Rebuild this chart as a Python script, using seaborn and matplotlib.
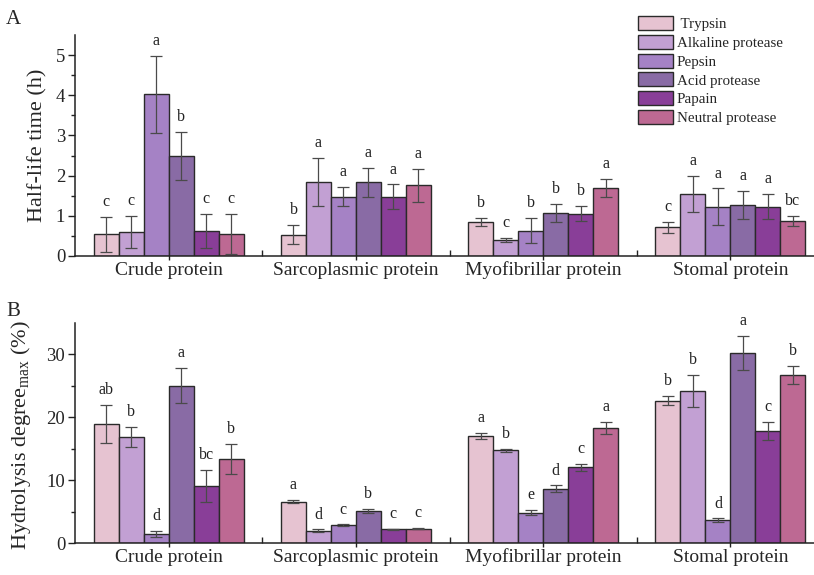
import numpy as np
import pandas as pd
import matplotlib
matplotlib.use("Agg")
import matplotlib.pyplot as plt
import seaborn as sns

proteins = ["Crude protein", "Sarcoplasmic protein", "Myofibrillar protein", "Stomal protein"]
enzymes = [" Trypsin", "Alkaline protease", "Pepsin", "Acid protease", "Papain", "Neutral protease"]
colors = ["#E6C3D1", "#C2A0D3", "#A582C5", "#896BA5", "#893E98", "#BD6993"]

# Panel A: half-life time (h); rows = protein, cols = enzyme
half_life = [
    [0.54, 0.60, 4.02, 2.48, 0.62, 0.54],
    [0.53, 1.85, 1.48, 1.83, 1.48, 1.76],
    [0.85, 0.39, 0.63, 1.07, 1.05, 1.69],
    [0.71, 1.55, 1.22, 1.28, 1.23, 0.87],
]
half_life_err = [
    [0.44, 0.40, 0.95, 0.60, 0.42, 0.50],
    [0.24, 0.60, 0.23, 0.36, 0.30, 0.41],
    [0.10, 0.05, 0.31, 0.22, 0.19, 0.22],
    [0.13, 0.45, 0.46, 0.35, 0.32, 0.12],
]
half_life_letters = [
    ["c", "c", "a", "b", "c", "c"],
    ["b", "a", "a", "a", "a", "a"],
    ["b", "c", "b", "b", "b", "a"],
    ["c", "a", "a", "a", "a", "bc"],
]

# Panel B: hydrolysis degree max (%)
hydro = [
    [18.95, 16.85, 1.4, 25.0, 9.1, 13.3],
    [6.6, 1.95, 2.8, 5.05, 2.2, 2.3],
    [17.05, 14.75, 4.85, 8.65, 12.05, 18.3],
    [22.65, 24.2, 3.6, 30.3, 17.85, 26.7],
]
hydro_err = [
    [3.0, 1.6, 0.5, 2.8, 2.5, 2.4],
    [0.3, 0.2, 0.15, 0.3, 0.1, 0.15],
    [0.45, 0.2, 0.45, 0.5, 0.55, 0.95],
    [0.75, 2.5, 0.3, 2.7, 1.45, 1.4],
]
hydro_letters = [
    ["ab", "b", "d", "a", "bc", "b"],
    ["a", "d", "c", "b", "c", "c"],
    ["a", "b", "e", "d", "c", "a"],
    ["b", "b", "d", "a", "c", "b"],
]

sns.set_theme(style="ticks")
plt.rcParams["font.family"] = ["Liberation Serif", "DejaVu Serif"]
plt.rcParams["mathtext.fontset"] = "custom"
plt.rcParams["mathtext.rm"] = "Liberation Serif"
plt.rcParams["mathtext.it"] = "Liberation Serif:italic"


def long_df(vals):
    rows = []
    for i, p in enumerate(proteins):
        for j, e in enumerate(enzymes):
            rows.append({"Protein": p, "Enzyme": e, "value": vals[i][j]})
    return pd.DataFrame(rows)


fig = plt.figure(figsize=(8.14, 5.75), dpi=100)
W, H = 814, 575
axA = fig.add_axes([75 / W, 1 - 256 / H, 749 / W, (256 - 35) / H])
axB = fig.add_axes([75 / W, 1 - 543 / H, 749 / W, (543 - 323) / H])


def draw(ax, vals, errs, letters, ylim, major, minor, ylabel):
    df = long_df(vals)
    sns.barplot(data=df, x="Protein", y="value", hue="Enzyme", order=proteins,
                hue_order=enzymes, palette=colors, width=0.8, errorbar=None,
                edgecolor="#2a2a2a", linewidth=1.0, saturation=1, ax=ax)
    bar_conts = list(ax.containers)
    for j, cont in enumerate(bar_conts):
        for i, bar in enumerate(cont.patches):
            xc = bar.get_x() + bar.get_width() / 2
            top = bar.get_height()
            ax.errorbar(xc, top, yerr=errs[i][j], color="#4a4a4a", lw=0.9,
                        capsize=4.5, capthick=0.9, fmt="none", zorder=5)
            ax.annotate(letters[i][j], (xc, top + errs[i][j]), xytext=(0, 5),
                        textcoords="offset points", ha="center", va="bottom",
                        fontsize=11.5, color="#222222")
    leg = ax.get_legend()
    if leg is not None:
        leg.remove()
    ax.set_xlim(-0.5, 3.5)
    ax.set_ylim(*ylim)
    ax.set_yticks(major)
    ax.set_yticks(minor, minor=True)
    ax.set_xticks([0, 1, 2, 3])
    ax.set_xticks([0.5, 1.5, 2.5], minor=True)
    ax.set_xticklabels(proteins, fontsize=14)
    ax.tick_params(axis="y", labelsize=13.5, length=5, width=1, direction="out",
                   color="#222", pad=2)
    ax.tick_params(axis="y", which="minor", length=3, width=1, color="#222")
    ax.tick_params(axis="x", length=6, width=1, direction="inout", color="#222", pad=1)
    ax.tick_params(axis="x", which="minor", length=4, width=1, direction="in", color="#222")
    ax.set_xlabel("")
    ax.set_ylabel(ylabel, fontsize=16)
    for s in ["top", "right"]:
        ax.spines[s].set_visible(False)
    for s in ["left", "bottom"]:
        ax.spines[s].set_linewidth(1.1)
        ax.spines[s].set_color("#222")
    ax.set_facecolor("white")


draw(axA, half_life, half_life_err, half_life_letters, (0, 5.5),
     [0, 1, 2, 3, 4, 5], [0.5, 1.5, 2.5, 3.5, 4.5], "Half-life time (h)")
draw(axB, hydro, hydro_err, hydro_letters, (0, 35),
     [0, 10, 20, 30], [5, 15, 25], r"Hydrolysis degree$_{\mathrm{max}}$ (%)")

axA.yaxis.set_label_coords(-0.037, 0.5)
axB.yaxis.set_label_coords(-0.056, 0.49)

handles = [plt.Rectangle((0, 0), 1, 1, facecolor=c, edgecolor="#2a2a2a", lw=1.0) for c in colors]
fig.legend(handles, enzymes, loc="upper left", bbox_to_anchor=(638 / W, 1 - 16 / H),
           frameon=False, fontsize=10.8, handlelength=2.3, handleheight=1.05,
           labelspacing=0.25, handletextpad=0.3, borderpad=0, borderaxespad=0)

fig.text(6 / W, 1 - 20 / H, "A", fontsize=15, va="center", ha="left")
fig.text(6 / W, 1 - 311 / H, "B", fontsize=15, va="center", ha="left")

fig.savefig("out.png", dpi=100, facecolor="white")
